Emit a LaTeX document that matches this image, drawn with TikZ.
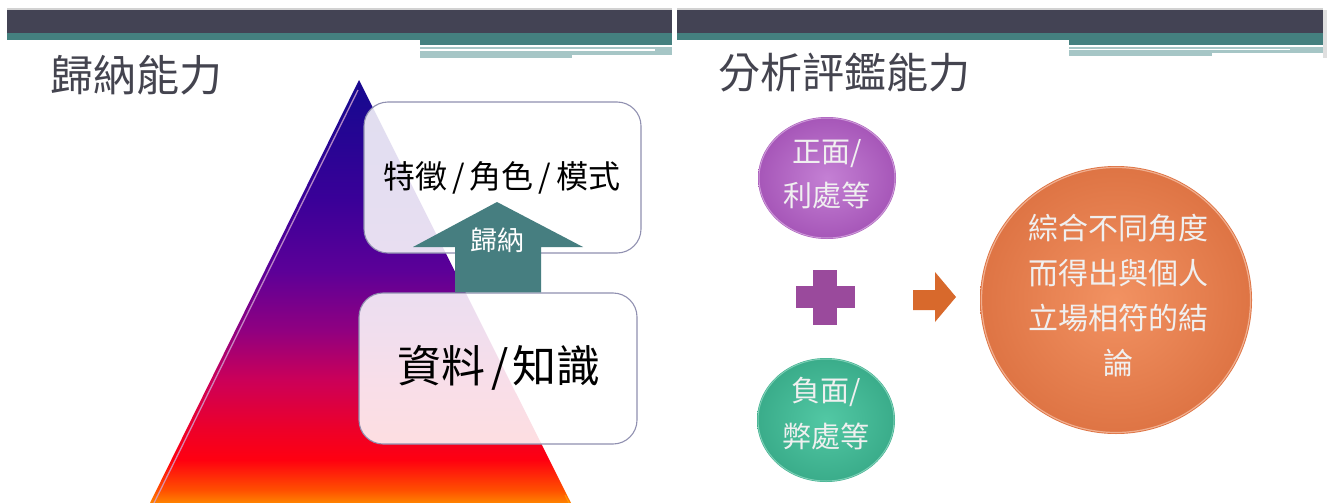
\documentclass[tikz,border=0pt]{standalone}
\usepackage{fontspec}
\setmainfont{Noto Sans CJK TC}
\usetikzlibrary{shapes.geometric}
\definecolor{hdark}{HTML}{434354}
\definecolor{hteal}{HTML}{44807F}
\definecolor{hlight}{HTML}{A6C6C6}
\definecolor{titlec}{HTML}{44444F}
\definecolor{boxline}{HTML}{9090B0}
\definecolor{arrteal}{HTML}{467E80}
\definecolor{purin}{HTML}{C480D4}
\definecolor{purout}{HTML}{A656B8}
\definecolor{grnin}{HTML}{52C8A4}
\definecolor{grnout}{HTML}{3AAC8A}
\definecolor{orgin}{HTML}{F29262}
\definecolor{orgout}{HTML}{DE7444}
\definecolor{plusc}{HTML}{9A4A9C}
\definecolor{orgarr}{HTML}{D8692C}
\definecolor{pA}{HTML}{FF8400}
\definecolor{pB}{HTML}{FF5000}
\definecolor{pC}{HTML}{FF0010}
\definecolor{pD}{HTML}{EE0028}
\definecolor{pE}{HTML}{CC0058}
\definecolor{pF}{HTML}{900080}
\definecolor{pG}{HTML}{5C0098}
\definecolor{pH}{HTML}{3A0098}
\definecolor{pI}{HTML}{1A0890}
\pgfdeclareverticalshading{pyr}{100bp}{%
  color(0bp)=(pA);
  color(25bp)=(pA);
  color(26.5bp)=(pB);
  color(30.1bp)=(pC);
  color(33.6bp)=(pD);
  color(39.5bp)=(pE);
  color(45.4bp)=(pF);
  color(52.5bp)=(pG);
  color(60.8bp)=(pH);
  color(72.6bp)=(pI);
  color(75bp)=(pI);
  color(100bp)=(pI)}
\tikzset{
  title/.style={text=titlec, anchor=west, inner sep=0pt, font=\fontsize{43}{46}\selectfont},
  rbox/.style={draw=boxline, line width=1.1pt, fill=white, fill opacity=0.87, text opacity=1, rounded corners=24pt, inner sep=0pt},
  disc/.style={circle, inner sep=0pt, text=white!94!black, align=center},
}
\begin{document}
\begin{tikzpicture}[x=1pt,y=-1pt]
\useasboundingbox (0,0) rectangle (1330,503);
\fill[white] (0,0) rectangle (1330,503);
% ---------- headers ----------
\fill[gray!35] (7,8.5) rectangle (672,10);
\fill[hdark] (7,10) rectangle (672,33);
\fill[hteal] (7,33) rectangle (672,40);
\fill[hteal] (420,40) rectangle (672,45);
\fill[hlight] (420,47) rectangle (672,55);
\fill[hlight] (420,55) rectangle (572,58);
\draw[white, line width=1.4pt] (420,50) -- (655,50);
\fill[gray!35] (677,8.5) rectangle (1323,10);
\fill[hdark] (677,10) rectangle (1323,33);
\fill[hteal] (677,33) rectangle (1323,40);
\fill[hteal] (1069,40) rectangle (1323,45);
\fill[hlight] (1069,47) rectangle (1323,53);
\fill[hlight] (1069,53) rectangle (1212,56);
\draw[white, line width=1.4pt] (1069,49.5) -- (1290,49.5);
\fill[gray!25] (1323,10) rectangle (1327,58);
% ---------- titles ----------
\node[title] (t1) at (50,75) {歸納能力};
\node[title, font=\fontsize{42}{46}\selectfont] (t2) at (718,73) {分析評鑑能力};
% ---------- pyramid ----------
\shade[shading=pyr] (359,80) -- (571,503) -- (150,503) -- cycle;
\draw[violet!35!white, opacity=0.8, line width=1.3pt] (358,90) -- (154,503);
\draw[orange!60!yellow, opacity=0.6, line width=1pt] (565,495) -- (569,503);
% ---------- boxes ----------
\node[rbox, minimum width=277pt, minimum height=151pt] (top) at (502.5,177.5) {};
\node[text=black, font=\fontsize{32}{36}\selectfont] (toptxt) at (502,178) {特徵\hspace{5pt}/\hspace{5pt}角色\hspace{5pt}/\hspace{5pt}模式};
\node[rbox, minimum width=278pt, minimum height=151pt] (bot) at (498,368.5) {};
\node[text=black, font=\fontsize{44}{48}\selectfont] (bottxt) at (499,368) {資料\hspace{6pt}/\hspace{4pt}知識};
% block arrow
\fill[arrteal] (bot.north -| 455,0) -- (455,247) -- (413,247) -- (497,202) -- (583,247) -- (541,247) -- (bot.north -| 541,0) -- cycle;
\node[text=white, font=\fontsize{27}{30}\selectfont] (ind) at (497,240) {歸納};
% ---------- right slide ----------
\shade[inner color=purin, outer color=purout] (827,178) ellipse [x radius=69, y radius=61];
\draw[purin!60!white, line width=1pt, opacity=0.7] (827,178) ellipse [x radius=68, y radius=60];
\node[disc, font=\fontsize{29}{44}\selectfont] (pos) at (827,174) {正面/\\利處等};
\shade[inner color=grnin, outer color=grnout] (826,420) ellipse [x radius=69, y radius=62];
\draw[grnin!60!white, line width=1pt, opacity=0.7] (826,420) ellipse [x radius=68, y radius=61];
\node[disc, font=\fontsize{29}{46}\selectfont] (neg) at (826,414) {負面/\\弊處等};
% plus sign
\fill[plusc] (813,270) rectangle (837,325);
\fill[plusc] (796,286) rectangle (855,308);
% orange arrow
\fill[orgarr] (913,290) -- (935,290) -- (935,272) -- (956,297) -- (935,322) -- (935,310) -- (913,310) -- cycle;
% result circle
\shade[inner color=orgin, outer color=orgout] (1116,300) ellipse [x radius=136, y radius=134];
\draw[orgin!50!white, line width=1.2pt, opacity=0.7] (1116,300) ellipse [x radius=134.5, y radius=132.5];
\node[disc, font=\fontsize{30}{45}\selectfont] (res) at (1118,296) {綜合不同角度\\而得出與個人\\立場相符的結\\論};
\end{tikzpicture}
\end{document}
